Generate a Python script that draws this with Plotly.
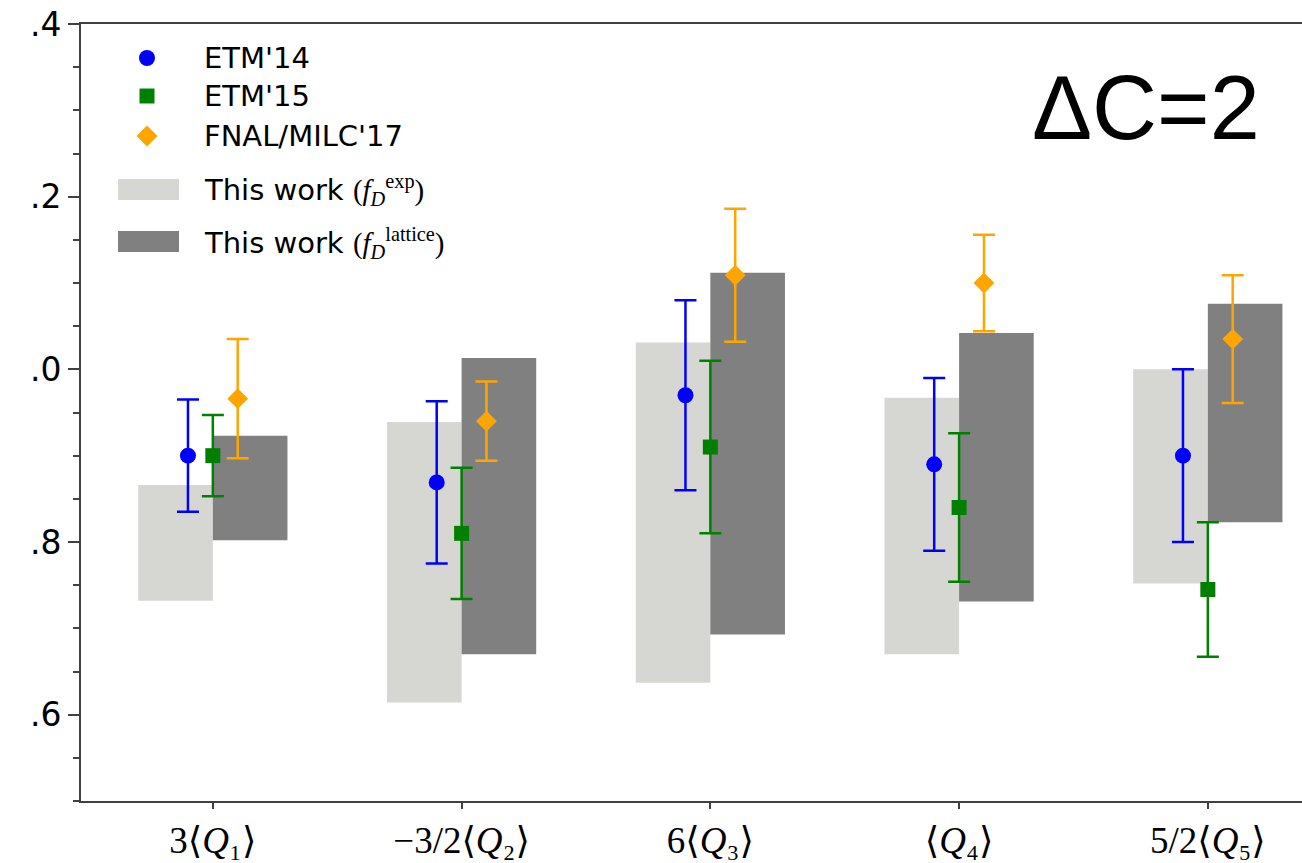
import numpy as np
import plotly.graph_objects as go

# ---------------- data ----------------
categories = ["3⟨<i>Q</i>₁⟩", "−3/2⟨<i>Q</i>₂⟩", "6⟨<i>Q</i>₃⟩",
              "⟨<i>Q</i>₄⟩", "5/2⟨<i>Q</i>₅⟩"]

exp_low = [0.732, 0.614, 0.637, 0.670, 0.752]
exp_high = [0.866, 0.939, 1.031, 0.967, 1.000]
lat_low = [0.802, 0.670, 0.693, 0.731, 0.823]
lat_high = [0.923, 1.013, 1.112, 1.042, 1.076]

etm14 = [0.900, 0.869, 0.970, 0.890, 0.900]
etm14_err = [0.065, 0.094, 0.110, 0.100, 0.100]
etm15 = [0.900, 0.810, 0.910, 0.840, 0.745]
etm15_err = [0.047, 0.076, 0.100, 0.086, 0.078]
fnal17 = [0.966, 0.940, 1.109, 1.100, 1.035]
fnal17_err = [0.069, 0.046, 0.077, 0.056, 0.074]

ytick_vals = [0.6, 0.8, 1.0, 1.2, 1.4]
ytick_text = [".6", ".8", ".0", ".2", ".4"]

# ---------------- figure ----------------
W, H = 1302, 863
ML, MR, MT, MB = 81, 0, 24, 62
AX = "#404040"
SERIF = "Liberation Serif, DejaVu Serif, serif"
SANS = "DejaVu Sans, sans-serif"

x = np.arange(len(categories))
fig = go.Figure()

fig.add_trace(go.Bar(x=x, y=np.array(exp_high) - np.array(exp_low), base=exp_low,
                     width=0.3, offset=-0.3, marker=dict(color="#d6d7d2", line_width=0),
                     name="This work (f_D^exp)", showlegend=False))
fig.add_trace(go.Bar(x=x, y=np.array(lat_high) - np.array(lat_low), base=lat_low,
                     width=0.3, offset=0.0, marker=dict(color="#808080", line_width=0),
                     name="This work (f_D^lattice)", showlegend=False))

series = [
    ("ETM'14", etm14, etm14_err, -0.1, "#0000ff", "circle", 16),
    ("ETM'15", etm15, etm15_err, 0.0, "#008000", "square", 15),
    ("FNAL/MILC'17", fnal17, fnal17_err, 0.1, "#ffa500", "diamond", 16),
]
for name, vals, err, dx, col, sym, sz in series:
    fig.add_trace(go.Scatter(
        x=x + dx, y=vals, mode="markers", name=name, showlegend=False,
        marker=dict(symbol=sym, size=sz, color=col, line_width=0),
        error_y=dict(type="data", array=err, visible=True, thickness=2.5, width=11, color=col)))

pw, ph = W - ML - MR, H - MT - MB


def px(xp):
    return (xp - ML) / pw


def py(yp):
    return (H - MB - yp) / ph


shapes = []
annotations = []

# legend markers (px positions)
leg_x = px(147)
shapes.append(dict(type="circle", xref="paper", yref="paper", xsizemode="pixel", ysizemode="pixel",
                   xanchor=leg_x, yanchor=py(58), x0=-8, x1=8, y0=-8, y1=8,
                   fillcolor="#0000ff", line_width=0))
shapes.append(dict(type="rect", xref="paper", yref="paper", xsizemode="pixel", ysizemode="pixel",
                   xanchor=leg_x, yanchor=py(96), x0=-7.5, x1=7.5, y0=-7.5, y1=7.5,
                   fillcolor="#008000", line_width=0))
shapes.append(dict(type="path", xref="paper", yref="paper", xsizemode="pixel", ysizemode="pixel",
                   xanchor=leg_x, yanchor=py(136), path="M -10.5 0 L 0 10.5 L 10.5 0 L 0 -10.5 Z",
                   fillcolor="#ffa500", line_width=0))
shapes.append(dict(type="rect", xref="paper", yref="paper", x0=px(118), x1=px(179), y0=py(200), y1=py(179),
                   fillcolor="#d6d7d2", line_width=0))
shapes.append(dict(type="rect", xref="paper", yref="paper", x0=px(118), x1=px(179), y0=py(252), y1=py(231),
                   fillcolor="#808080", line_width=0))

leg_font = dict(family=SANS, size=29, color="black")
for txt, yy in [("ETM'14", 58), ("ETM'15", 96), ("FNAL/MILC'17", 136)]:
    annotations.append(dict(text=txt, xref="paper", yref="paper", x=px(202), y=py(yy),
                            xanchor="left", yanchor="middle", showarrow=False, font=leg_font))

ser = lambda s: f"<span style='font-family:{SERIF}'>{s}</span>"
annotations.append(dict(
    text="This work " + ser("(<i>f</i><sub><i>D</i></sub><sup>exp</sup>)"),
    xref="paper", yref="paper", x=px(202), y=py(190), xanchor="left", yanchor="middle",
    showarrow=False, font=leg_font))
annotations.append(dict(
    text="This work " + ser("(<i>f</i><sub><i>D</i></sub><sup>lattice</sup>)"),
    xref="paper", yref="paper", x=px(202), y=py(243), xanchor="left", yanchor="middle",
    showarrow=False, font=leg_font))

annotations.append(dict(text="ΔC=2", xref="paper", yref="paper", x=px(1146), y=py(108),
                        xanchor="center", yanchor="middle", showarrow=False,
                        font=dict(family="Liberation Sans, Arial, sans-serif", size=90, color="black")))

fig.update_layout(
    width=W, height=H, margin=dict(l=ML, r=MR, t=MT, b=MB, pad=0, autoexpand=False),
    paper_bgcolor="white", plot_bgcolor="white", barmode="overlay",
    shapes=shapes, annotations=annotations, showlegend=False,
    xaxis=dict(range=[-0.53, (W - MR - ML) / 248.75 - 0.53], tickvals=x, ticktext=categories,
               ticks="outside", ticklen=6, tickwidth=2, tickcolor=AX,
               showline=True, linecolor=AX, linewidth=2, mirror=True,
               showgrid=False, zeroline=False, ticklabelstandoff=0, automargin=False,
               tickfont=dict(family=SERIF, size=37, color="black")),
    yaxis=dict(range=[0.5, 1.4], tickvals=ytick_vals, ticktext=ytick_text,
               ticks="outside", ticklen=11, tickwidth=2, tickcolor=AX,
               minor=dict(dtick=0.05, tick0=0.5, ticks="outside", ticklen=6, tickwidth=2, tickcolor=AX),
               showline=True, linecolor=AX, linewidth=2, mirror=False,
               showgrid=False, zeroline=False, automargin=False,
               tickfont=dict(family=SANS, size=33, color="black")),
)

fig.write_html("out.html")
